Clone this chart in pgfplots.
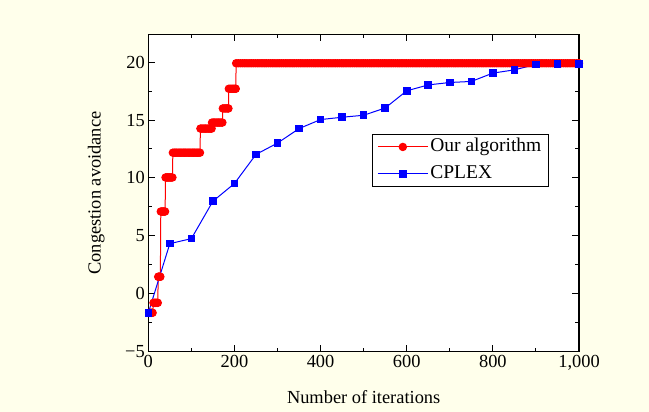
\documentclass[border=0pt]{standalone}
\usepackage{pgfplots}
\pgfplotsset{compat=1.18}
\usepackage{fontspec}
\setmainfont{Liberation Serif}
\definecolor{bgyellow}{RGB}{255,255,235}

\begin{document}
\begin{tikzpicture}
\fill[bgyellow] (0,0) rectangle (649bp,412bp);
\useasboundingbox (0,0) rectangle (649bp,412bp);
\begin{axis}[
 at={(148.3bp,60.3bp)},anchor=south west,
 scale only axis,width=430.7bp,height=317.4bp,
 xmin=0,xmax=1000,ymin=-5,ymax=22.4,
 xtick={0,200,400,600,800,1000},
 xticklabels={0,200,400,600,800,{1,000}},
 ytick={-5,0,5,10,15,20},
 yticklabels={−5,0,5,10,15,20},
 minor x tick num=1,minor y tick num=1,
 tick align=inside,
 major tick length=7bp,minor tick length=4bp,
 every tick/.style={black,line width=1bp},
 axis line style={line width=1.2bp},
 axis background/.style={fill=white},
 font=\fontsize{18.4bp}{21bp}\selectfont,
 xlabel={Number of iterations},
 ylabel={Congestion avoidance},
 every axis x label/.style={at={(rel axis cs:0.5,0)},yshift=-45bp,anchor=center},
 every axis y label/.style={at={(rel axis cs:0,0.5)},xshift=-52bp,anchor=center,rotate=90},
 legend style={at={(rel axis cs:0.519,0.686)},anchor=north west,draw=black,line width=1bp,
   font=\fontsize{19.5bp}{22bp}\selectfont,inner xsep=5bp,inner ysep=2bp,row sep=6bp,
   nodes={inner xsep=2bp,inner ysep=1bp,text height=14bp,text depth=5bp}},
 legend cell align=left,
 legend image code/.code={\draw[mark repeat=2,mark phase=2] plot coordinates {(0bp,0bp) (25bp,0bp) (50bp,0bp)};},
]
\addplot[red,line width=1bp,mark=*,mark size=3.7bp,mark options={solid,fill=red,draw=red}] coordinates {
 (2,-1.64) (4,-1.64) (6,-1.64) (8,-1.64) (10,-1.64)
 (12,-0.78) (14,-0.78) (16,-0.78) (18,-0.78) (20,-0.78) (22,-0.78)
 (23,1.47) (24,1.47) (25,1.47) (26,1.47) (27,1.47) (28,1.47)
 (29,7.1) (31,7.1) (33,7.1) (35,7.1) (37,7.1) (39,7.1)
 (40,10.04) (42,10.04) (44,10.04) (46,10.04) (48,10.04) (50,10.04) (52,10.04) (54,10.04) (56,10.04)
 (57,12.18) (60,12.18) (63,12.18) (66,12.18) (69,12.18) (72,12.18) (75,12.18) (78,12.18) (81,12.18) (84,12.18) (87,12.18)
 (90,12.18) (93,12.18) (96,12.18) (99,12.18) (102,12.18) (105,12.18) (108,12.18) (111,12.18) (114,12.18) (117,12.18) (120,12.18)
 (121,14.26) (124,14.26) (127,14.26) (130,14.26) (133,14.26) (136,14.26) (139,14.26) (142,14.26) (145,14.26) (147,14.26)
 (148,14.78) (151,14.78) (154,14.78) (157,14.78) (160,14.78) (163,14.78) (166,14.78) (169,14.78) (172,14.78)
 (173,16.0) (176,16.0) (179,16.0) (182,16.0) (185,16.0) (186,16.0)
 (187,17.7) (190,17.7) (193,17.7) (196,17.7) (199,17.7) (202,17.7) (203,17.7)
 (204,19.9) (209,19.9) (214,19.9) (219,19.9) (224,19.9) (229,19.9) (234,19.9) (239,19.9) (244,19.9) (249,19.9)
 (254,19.9) (259,19.9) (264,19.9) (269,19.9) (274,19.9) (279,19.9) (284,19.9) (289,19.9) (294,19.9) (299,19.9)
 (304,19.9) (309,19.9) (314,19.9) (319,19.9) (324,19.9) (329,19.9) (334,19.9) (339,19.9) (344,19.9) (349,19.9)
 (354,19.9) (359,19.9) (364,19.9) (369,19.9) (374,19.9) (379,19.9) (384,19.9) (389,19.9) (394,19.9) (399,19.9)
 (404,19.9) (409,19.9) (414,19.9) (419,19.9) (424,19.9) (429,19.9) (434,19.9) (439,19.9) (444,19.9) (449,19.9)
 (454,19.9) (459,19.9) (464,19.9) (469,19.9) (474,19.9) (479,19.9) (484,19.9) (489,19.9) (494,19.9) (499,19.9)
 (504,19.9) (509,19.9) (514,19.9) (519,19.9) (524,19.9) (529,19.9) (534,19.9) (539,19.9) (544,19.9) (549,19.9)
 (554,19.9) (559,19.9) (564,19.9) (569,19.9) (574,19.9) (579,19.9) (584,19.9) (589,19.9) (594,19.9) (599,19.9)
 (604,19.9) (609,19.9) (614,19.9) (619,19.9) (624,19.9) (629,19.9) (634,19.9) (639,19.9) (644,19.9) (649,19.9)
 (654,19.9) (659,19.9) (664,19.9) (669,19.9) (674,19.9) (679,19.9) (684,19.9) (689,19.9) (694,19.9) (699,19.9)
 (704,19.9) (709,19.9) (714,19.9) (719,19.9) (724,19.9) (729,19.9) (734,19.9) (739,19.9) (744,19.9) (749,19.9)
 (754,19.9) (759,19.9) (764,19.9) (769,19.9) (774,19.9) (779,19.9) (784,19.9) (789,19.9) (794,19.9) (799,19.9)
 (804,19.9) (809,19.9) (814,19.9) (819,19.9) (824,19.9) (829,19.9) (834,19.9) (839,19.9) (844,19.9) (849,19.9)
 (854,19.9) (859,19.9) (864,19.9) (869,19.9) (874,19.9) (879,19.9) (884,19.9) (889,19.9) (894,19.9) (899,19.9)
 (904,19.9) (909,19.9) (914,19.9) (919,19.9) (924,19.9) (929,19.9) (934,19.9) (939,19.9) (944,19.9) (949,19.9)
 (954,19.9) (959,19.9) (964,19.9) (969,19.9) (974,19.9) (979,19.9) (984,19.9) (989,19.9) (994,19.9) (999,19.9)
 (1000,19.9)
};
\addlegendentry{Our algorithm\hspace{12bp}}
\addplot[blue,line width=1bp,mark=square*,mark size=3.3bp,mark options={solid,fill=blue,draw=blue}] coordinates {
 (0,-1.65) (50,4.33) (100,4.76) (150,7.99) (200,9.52) (250,12.03) (300,13.01)
 (350,14.26) (400,15.04) (450,15.24) (500,15.41) (550,16.04) (600,17.52) (650,18.03)
 (700,18.24) (750,18.33) (800,19.05) (850,19.33) (900,19.8) (950,19.85) (1000,19.85)
};
\addlegendentry{CPLEX}
\end{axis}
\end{tikzpicture}
\end{document}
